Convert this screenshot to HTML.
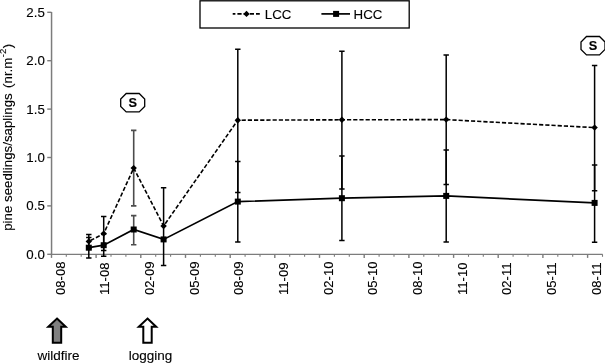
<!DOCTYPE html><html><head><meta charset="utf-8"><title>chart</title><style>html,body{margin:0;padding:0;background:#fff}svg{display:block}text{font-family:"Liberation Sans",Arial,sans-serif;fill:#000;stroke:#000;stroke-width:0.12px}</style></head><body>
<svg width="605" height="363" viewBox="0 0 605 363">
<rect width="605" height="363" fill="#fff"/>
<g stroke="#7c7c7c" fill="none">
<line x1="51.550000000000004" y1="12" x2="51.550000000000004" y2="254.9" stroke-width="1.5"/>
<line x1="50.85" y1="254.4" x2="602.6" y2="254.4" stroke-width="1.3"/>
<line x1="47.25" y1="254.3" x2="51.45" y2="254.3" stroke-width="1.4"/>
<line x1="47.25" y1="205.9" x2="51.45" y2="205.9" stroke-width="1.4"/>
<line x1="47.25" y1="157.5" x2="51.45" y2="157.5" stroke-width="1.4"/>
<line x1="47.25" y1="109.1" x2="51.45" y2="109.1" stroke-width="1.4"/>
<line x1="47.25" y1="60.7" x2="51.45" y2="60.7" stroke-width="1.4"/>
<line x1="47.25" y1="12.3" x2="51.45" y2="12.3" stroke-width="1.4"/>
<line x1="51.5" y1="254.3" x2="51.5" y2="257.90000000000003" stroke-width="1.4"/>
<line x1="66.3" y1="254.3" x2="66.3" y2="256.8" stroke-width="1.1"/>
<line x1="81.2" y1="254.3" x2="81.2" y2="256.8" stroke-width="1.1"/>
<line x1="96.1" y1="254.3" x2="96.1" y2="257.90000000000003" stroke-width="1.4"/>
<line x1="111.0" y1="254.3" x2="111.0" y2="256.8" stroke-width="1.1"/>
<line x1="125.9" y1="254.3" x2="125.9" y2="256.8" stroke-width="1.1"/>
<line x1="140.8" y1="254.3" x2="140.8" y2="257.90000000000003" stroke-width="1.4"/>
<line x1="155.7" y1="254.3" x2="155.7" y2="256.8" stroke-width="1.1"/>
<line x1="170.6" y1="254.3" x2="170.6" y2="256.8" stroke-width="1.1"/>
<line x1="185.5" y1="254.3" x2="185.5" y2="257.90000000000003" stroke-width="1.4"/>
<line x1="200.4" y1="254.3" x2="200.4" y2="256.8" stroke-width="1.1"/>
<line x1="215.3" y1="254.3" x2="215.3" y2="256.8" stroke-width="1.1"/>
<line x1="230.2" y1="254.3" x2="230.2" y2="257.90000000000003" stroke-width="1.4"/>
<line x1="245.1" y1="254.3" x2="245.1" y2="256.8" stroke-width="1.1"/>
<line x1="260.0" y1="254.3" x2="260.0" y2="256.8" stroke-width="1.1"/>
<line x1="274.8" y1="254.3" x2="274.8" y2="257.90000000000003" stroke-width="1.4"/>
<line x1="289.7" y1="254.3" x2="289.7" y2="256.8" stroke-width="1.1"/>
<line x1="304.6" y1="254.3" x2="304.6" y2="256.8" stroke-width="1.1"/>
<line x1="319.5" y1="254.3" x2="319.5" y2="257.90000000000003" stroke-width="1.4"/>
<line x1="334.4" y1="254.3" x2="334.4" y2="256.8" stroke-width="1.1"/>
<line x1="349.3" y1="254.3" x2="349.3" y2="256.8" stroke-width="1.1"/>
<line x1="364.2" y1="254.3" x2="364.2" y2="257.90000000000003" stroke-width="1.4"/>
<line x1="379.1" y1="254.3" x2="379.1" y2="256.8" stroke-width="1.1"/>
<line x1="394.0" y1="254.3" x2="394.0" y2="256.8" stroke-width="1.1"/>
<line x1="408.9" y1="254.3" x2="408.9" y2="257.90000000000003" stroke-width="1.4"/>
<line x1="423.8" y1="254.3" x2="423.8" y2="256.8" stroke-width="1.1"/>
<line x1="438.7" y1="254.3" x2="438.7" y2="256.8" stroke-width="1.1"/>
<line x1="453.6" y1="254.3" x2="453.6" y2="257.90000000000003" stroke-width="1.4"/>
<line x1="468.5" y1="254.3" x2="468.5" y2="256.8" stroke-width="1.1"/>
<line x1="483.3" y1="254.3" x2="483.3" y2="256.8" stroke-width="1.1"/>
<line x1="498.2" y1="254.3" x2="498.2" y2="257.90000000000003" stroke-width="1.4"/>
<line x1="513.1" y1="254.3" x2="513.1" y2="256.8" stroke-width="1.1"/>
<line x1="528.0" y1="254.3" x2="528.0" y2="256.8" stroke-width="1.1"/>
<line x1="542.9" y1="254.3" x2="542.9" y2="257.90000000000003" stroke-width="1.4"/>
<line x1="557.8" y1="254.3" x2="557.8" y2="256.8" stroke-width="1.1"/>
<line x1="572.7" y1="254.3" x2="572.7" y2="256.8" stroke-width="1.1"/>
<line x1="587.6" y1="254.3" x2="587.6" y2="257.90000000000003" stroke-width="1.4"/>
<line x1="602.5" y1="254.3" x2="602.5" y2="256.8" stroke-width="1.1"/>
</g>
<text x="44.8" y="258.8" font-size="13.3" text-anchor="end">0.0</text>
<text x="44.8" y="210.4" font-size="13.3" text-anchor="end">0.5</text>
<text x="44.8" y="162.0" font-size="13.3" text-anchor="end">1.0</text>
<text x="44.8" y="113.6" font-size="13.3" text-anchor="end">1.5</text>
<text x="44.8" y="65.2" font-size="13.3" text-anchor="end">2.0</text>
<text x="44.8" y="16.8" font-size="13.3" text-anchor="end">2.5</text>
<text transform="translate(64.6,295) rotate(-90)" font-size="13.1">08-08</text>
<text transform="translate(109.3,295) rotate(-90)" font-size="13.1">11-08</text>
<text transform="translate(154.0,295) rotate(-90)" font-size="13.1">02-09</text>
<text transform="translate(198.6,295) rotate(-90)" font-size="13.1">05-09</text>
<text transform="translate(243.3,295) rotate(-90)" font-size="13.1">08-09</text>
<text transform="translate(288.0,295) rotate(-90)" font-size="13.1">11-09</text>
<text transform="translate(332.7,295) rotate(-90)" font-size="13.1">02-10</text>
<text transform="translate(377.3,295) rotate(-90)" font-size="13.1">05-10</text>
<text transform="translate(422.0,295) rotate(-90)" font-size="13.1">08-10</text>
<text transform="translate(466.7,295) rotate(-90)" font-size="13.1">11-10</text>
<text transform="translate(511.4,295) rotate(-90)" font-size="13.1">02-11</text>
<text transform="translate(556.1,295) rotate(-90)" font-size="13.1">05-11</text>
<text transform="translate(600.7,295) rotate(-90)" font-size="13.1">08-11</text>
<text transform="translate(12.3,230.8) rotate(-90)" font-size="13.3">pine seedlings/saplings <tspan dx="1.7">(nr.m</tspan><tspan dx="0.4" dy="-6.1" font-size="9.6">-2</tspan><tspan dx="0.4" dy="6.1">)</tspan></text>
<path d="M88.8 234.6V248.2M86.1 234.6H91.5M86.1 248.2H91.5" stroke="#000" stroke-width="1.5" fill="none"/>
<path d="M88.8 237.6V257.9M86.1 237.6H91.5M86.1 257.9H91.5" stroke="#000" stroke-width="1.5" fill="none"/>
<path d="M103.7 216.5V250.6M101.0 216.5H106.4M101.0 250.6H106.4" stroke="#000" stroke-width="1.5" fill="none"/>
<path d="M103.7 234.1V256.3M101.0 234.1H106.4M101.0 256.3H106.4" stroke="#000" stroke-width="1.5" fill="none"/>
<path d="M133.7 130.4V205.9M131.0 130.4H136.39999999999998M131.0 205.9H136.39999999999998" stroke="#4c4c4c" stroke-width="1.6" fill="none"/>
<path d="M133.7 215.6V244.7M131.0 215.6H136.39999999999998M131.0 244.7H136.39999999999998" stroke="#4c4c4c" stroke-width="1.6" fill="none"/>
<path d="M163.6 187.7V265.4M160.9 187.7H166.29999999999998M160.9 265.4H166.29999999999998" stroke="#000" stroke-width="1.5" fill="none"/>
<path d="M237.8 49.3V192.6M235.10000000000002 49.3H240.5M235.10000000000002 192.6H240.5" stroke="#000" stroke-width="1.5" fill="none"/>
<path d="M237.8 161.6V242.1M235.10000000000002 161.6H240.5M235.10000000000002 242.1H240.5" stroke="#000" stroke-width="1.5" fill="none"/>
<path d="M341.9 51.2V189.0M339.2 51.2H344.59999999999997M339.2 189.0H344.59999999999997" stroke="#000" stroke-width="1.5" fill="none"/>
<path d="M341.9 155.9V240.6M339.2 155.9H344.59999999999997M339.2 240.6H344.59999999999997" stroke="#000" stroke-width="1.5" fill="none"/>
<path d="M446.2 54.9V184.5M443.5 54.9H448.9M443.5 184.5H448.9" stroke="#000" stroke-width="1.5" fill="none"/>
<path d="M446.2 149.9V241.9M443.5 149.9H448.9M443.5 241.9H448.9" stroke="#000" stroke-width="1.5" fill="none"/>
<path d="M594.6 65.5V190.8M591.9 65.5H597.3000000000001M591.9 190.8H597.3000000000001" stroke="#000" stroke-width="1.5" fill="none"/>
<path d="M594.6 164.9V242.2M591.9 164.9H597.3000000000001M591.9 242.2H597.3000000000001" stroke="#000" stroke-width="1.5" fill="none"/>
<polyline points="88.8,241.4 103.7,233.6 133.7,168.1 163.6,226.0 237.8,120.2 341.9,119.8 446.2,119.6 594.6,127.6" fill="none" stroke="#000" stroke-width="1.6" stroke-dasharray="4.2 2" stroke-dashoffset="4.35"/>
<polyline points="88.8,247.7 103.7,245.2 133.7,229.5 163.6,239.4 237.8,201.6 341.9,198.2 446.2,195.9 594.6,202.9" fill="none" stroke="#000" stroke-width="1.7"/>
<path d="M88.8 238.2L92.0 241.4L88.8 244.6L85.6 241.4Z" fill="#000"/>
<rect x="85.8" y="244.7" width="6" height="6" fill="#000"/>
<path d="M103.7 230.4L106.9 233.6L103.7 236.8L100.5 233.6Z" fill="#000"/>
<rect x="100.7" y="242.2" width="6" height="6" fill="#000"/>
<path d="M133.7 164.9L136.89999999999998 168.1L133.7 171.3L130.5 168.1Z" fill="#000"/>
<rect x="130.7" y="226.5" width="6" height="6" fill="#000"/>
<path d="M163.6 222.8L166.79999999999998 226.0L163.6 229.2L160.4 226.0Z" fill="#000"/>
<rect x="160.6" y="236.4" width="6" height="6" fill="#000"/>
<path d="M237.8 117.0L241.0 120.2L237.8 123.4L234.60000000000002 120.2Z" fill="#000"/>
<rect x="234.8" y="198.6" width="6" height="6" fill="#000"/>
<path d="M341.9 116.6L345.09999999999997 119.8L341.9 123.0L338.7 119.8Z" fill="#000"/>
<rect x="338.9" y="195.2" width="6" height="6" fill="#000"/>
<path d="M446.2 116.4L449.4 119.6L446.2 122.8L443.0 119.6Z" fill="#000"/>
<rect x="443.2" y="192.9" width="6" height="6" fill="#000"/>
<path d="M594.6 124.4L597.8000000000001 127.6L594.6 130.8L591.4 127.6Z" fill="#000"/>
<rect x="591.6" y="199.9" width="6" height="6" fill="#000"/>
<rect x="200" y="0.8" width="209.2" height="27.2" fill="#fff" stroke="#000" stroke-width="1.3"/>
<line x1="232.7" y1="13.9" x2="259.8" y2="13.9" stroke="#000" stroke-width="1.6" stroke-dasharray="4.2 2" stroke-dashoffset="1.5"/>
<path d="M246.5 10.7L249.7 13.9L246.5 17.1L243.3 13.9Z" fill="#000"/>
<text x="264.8" y="18.8" font-size="13.3">LCC</text>
<line x1="321.4" y1="13.9" x2="350" y2="13.9" stroke="#000" stroke-width="1.7"/>
<rect x="333.1" y="10.9" width="6" height="6" fill="#000"/>
<text x="353.6" y="18.8" font-size="13.3">HCC</text>
<polygon points="126.2,93.5 139.2,93.5 144.7,99.0 144.7,106.4 139.2,111.9 126.2,111.9 120.7,106.4 120.7,99.0" fill="#fff" stroke="#000" stroke-width="1.3"/>
<text x="132.7" y="107.4" font-size="12.8" font-weight="bold" text-anchor="middle">S</text>
<polygon points="586.5,36.5 599.5,36.5 605.0,42.0 605.0,49.4 599.5,54.9 586.5,54.9 581.0,49.4 581.0,42.0" fill="#fff" stroke="#000" stroke-width="1.3"/>
<text x="593" y="50.4" font-size="12.8" font-weight="bold" text-anchor="middle">S</text>
<path d="M57 318.5L65.7 326.7H61.2V342.8H52.8V326.7H48.3Z" fill="#808080" stroke="#000" stroke-width="2" stroke-linejoin="miter"/>
<path d="M147.5 318.5L156.2 326.7H151.7V342.8H143.3V326.7H138.8Z" fill="#fff" stroke="#000" stroke-width="2" stroke-linejoin="miter"/>
<text x="58.4" y="360.2" font-size="13.5" text-anchor="middle">wildfire</text>
<text x="150.5" y="360.2" font-size="13.5" text-anchor="middle">logging</text>
</svg></body></html>
